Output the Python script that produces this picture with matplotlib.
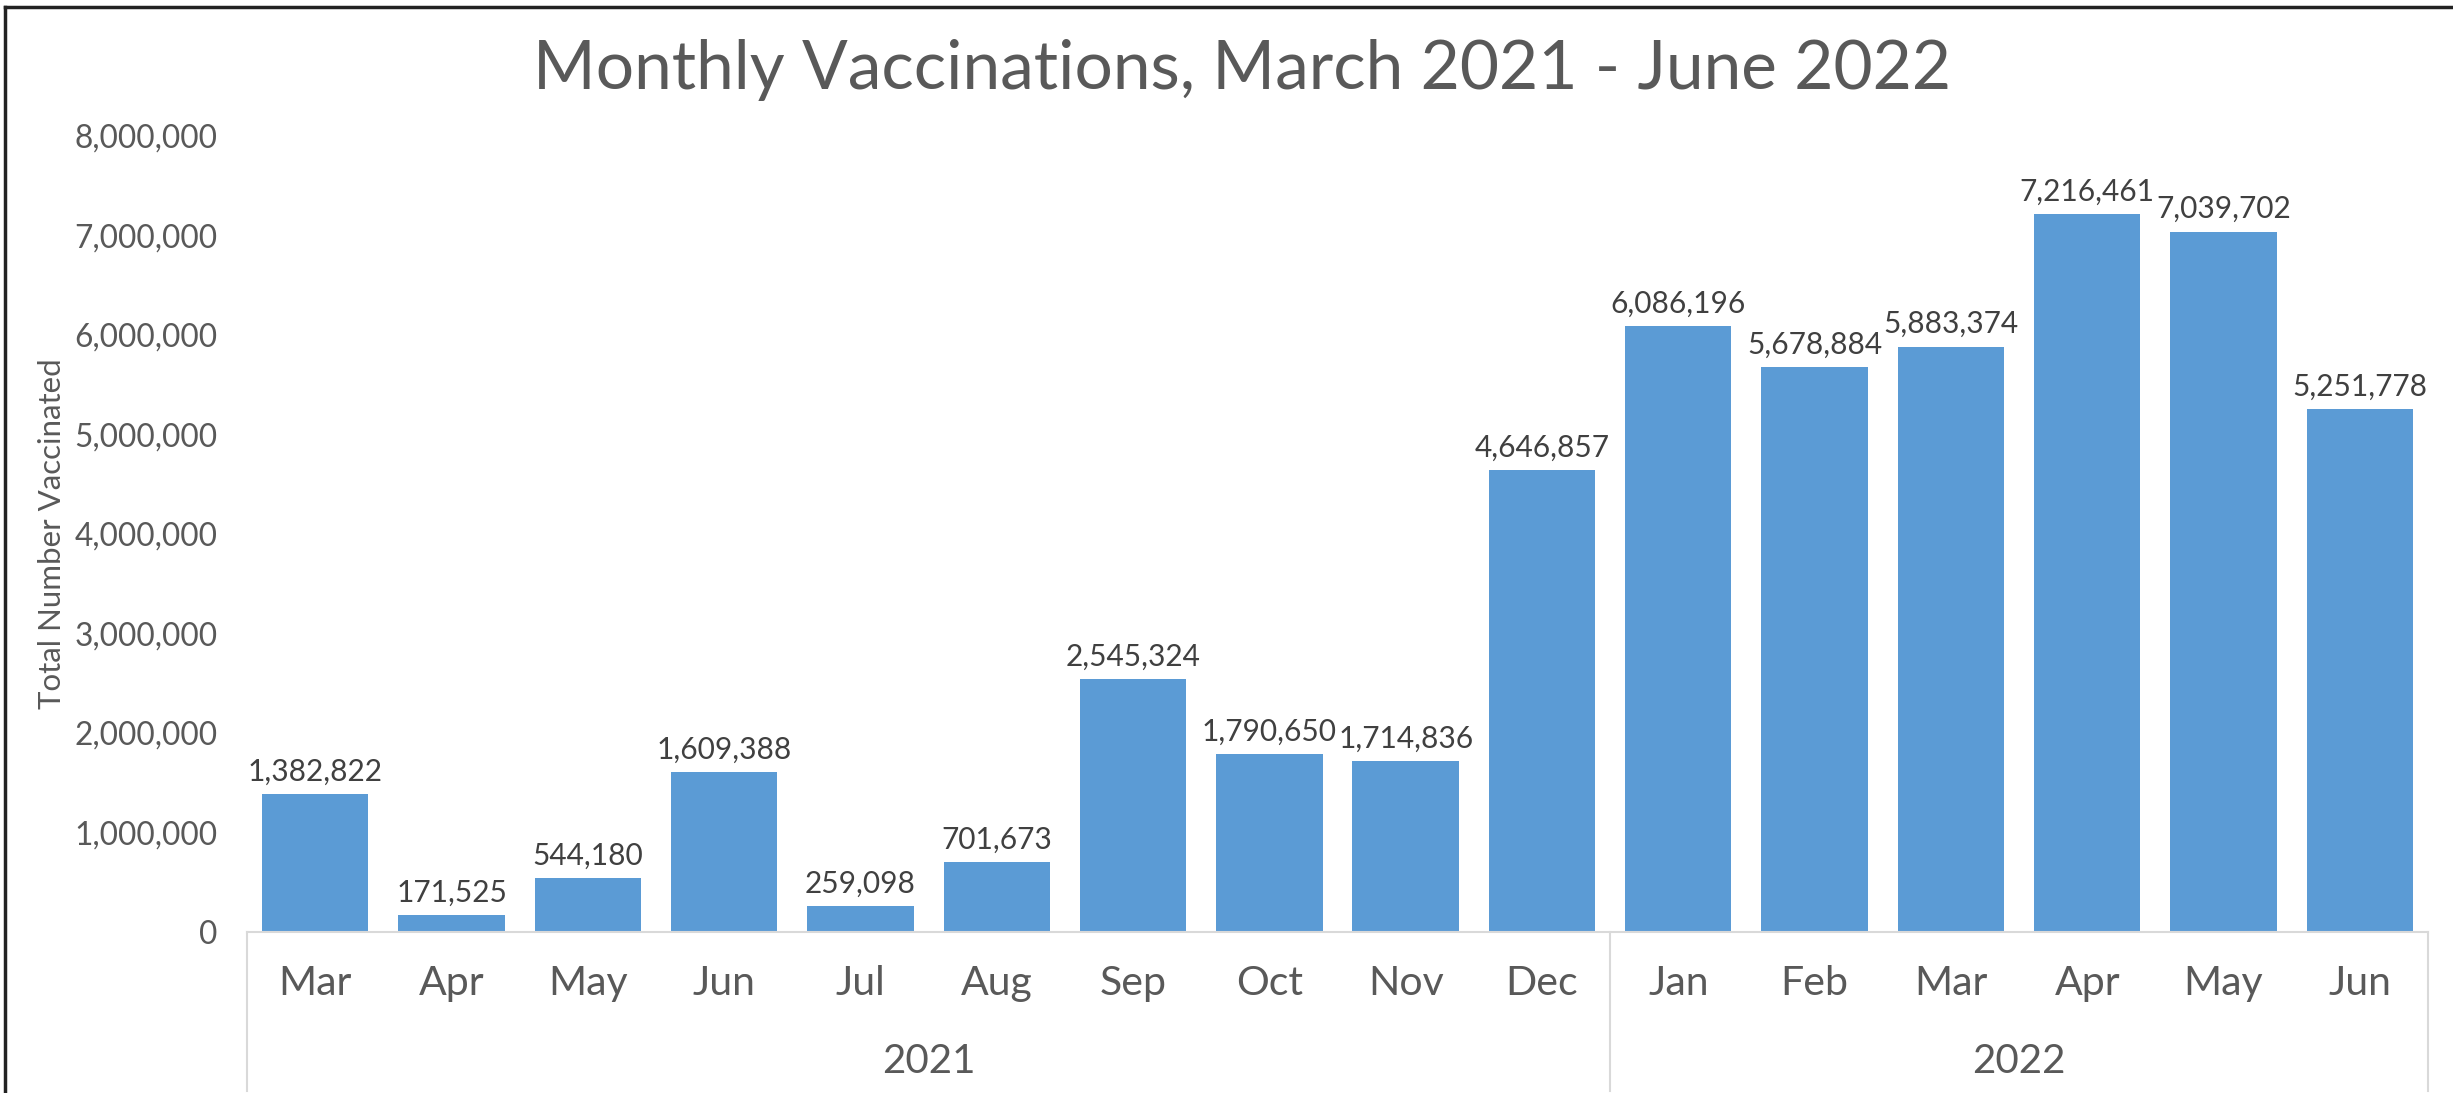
import matplotlib.pyplot as plt
from matplotlib.lines import Line2D
from matplotlib.ticker import FuncFormatter

# monthly totals, March 2021 - June 2022
months = ["Mar", "Apr", "May", "Jun", "Jul", "Aug", "Sep", "Oct", "Nov", "Dec",
          "Jan", "Feb", "Mar", "Apr", "May", "Jun"]
years = ["2021", "2022"]
months_per_year = [10, 6]
vaccinated = [1382822, 171525, 544180, 1609388, 259098, 701673, 2545324, 1790650,
              1714836, 4646857, 6086196, 5678884, 5883374, 7216461, 7039702, 5251778]

plt.rcParams['font.family'] = ['Lato', 'DejaVu Sans']
gray = "#595959"

fig = plt.figure(figsize=(24.53, 10.93), dpi=100)
ax = fig.add_axes([0.1007, 0.1473, 0.8891, 0.7283])

x = range(len(months))
bars = ax.bar(x, vaccinated, width=0.78, color="#5B9BD5", zorder=2)
for xi, v in zip(x, vaccinated):
    ax.annotate(f"{v:,}", (xi, v), xytext=(0, 6), textcoords="offset points",
                ha="center", va="bottom", fontsize=21.5, color="#404040")

ax.set_xlim(-0.5, len(months) - 0.5)
ax.set_ylim(0, 8000000)
ax.set_yticks(range(0, 8000001, 1000000))
ax.yaxis.set_major_formatter(FuncFormatter(lambda v, p: f"{int(v):,}"))
ax.tick_params(axis="y", length=0, pad=21, labelsize=22.8, labelcolor=gray)
ax.set_xticks([])
for side in ["top", "right", "left"]:
    ax.spines[side].set_visible(False)
ax.spines["bottom"].set_color("#D9D9D9")
ax.spines["bottom"].set_linewidth(1.5)

ax.set_ylabel("Total Number Vaccinated", fontsize=22.5, color=gray)
ax.yaxis.set_label_coords(-0.083, 0.5)

# two-level category axis: months, then years
tr = ax.get_xaxis_transform()
for xi, m in zip(x, months):
    ax.text(xi, -0.065, m, transform=tr, ha="center", va="center",
            fontsize=29.5, color=gray)
start = -0.5
bounds = [start]
for y, n in zip(years, months_per_year):
    ax.text(start + n / 2, -0.163, y, transform=tr, ha="center", va="center",
            fontsize=29, color=gray)
    start += n
    bounds.append(start)
for b in bounds:
    ax.plot([b, b], [0, -0.2], transform=tr, color="#D9D9D9", lw=1.5, clip_on=False)

fig.text(0.5065, 0.936, "Monthly Vaccinations, March 2021 - June 2022",
         ha="center", va="center", fontsize=48.7, color=gray)

# outer chart frame (left and top edges)
fig.add_artist(Line2D([0.002, 0.002], [0, 0.994], transform=fig.transFigure,
                      color="#222222", lw=2.5))
fig.add_artist(Line2D([0.002, 1], [0.994, 0.994], transform=fig.transFigure,
                      color="#222222", lw=2.5))

fig.savefig("out.png", dpi=100)
